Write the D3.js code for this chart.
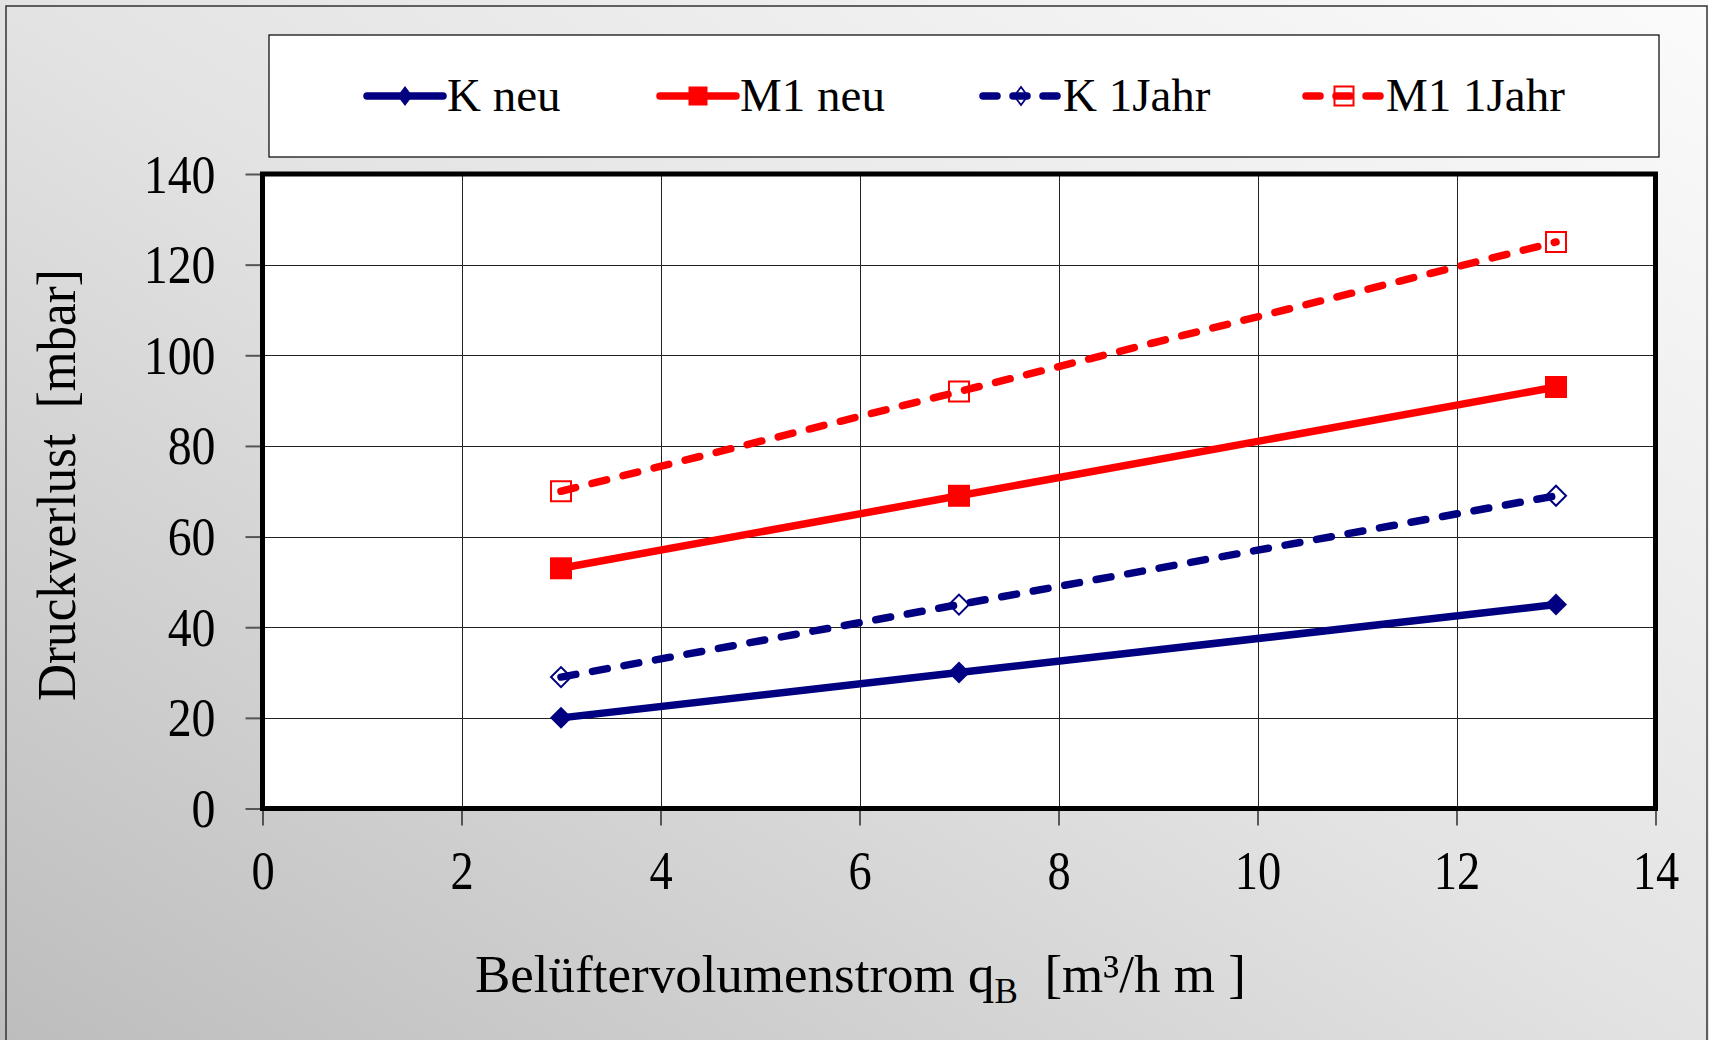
<!DOCTYPE html>
<html>
<head>
<meta charset="utf-8">
<script src="https://cdn.jsdelivr.net/npm/d3@7"></script>
<style>
  body { margin: 0; background: #fff; }
  svg { display: block; }
  text { font-family: "Liberation Serif", "Times New Roman", serif; fill: #000; }
</style>
</head>
<body>
<div class="canvas"></div>
<script>
// data
const xValues = [3, 7, 13]
const kNeu = [20, 30, 45]
const m1Neu = [53, 69, 93]
const k1Jahr = [29, 45, 69]
const m1Jahr = [70, 92, 125]

const xTicks = [0, 2, 4, 6, 8, 10, 12, 14]
const yTicks = [0, 20, 40, 60, 80, 100, 120, 140]

const seriesNames = ["K neu", "M1 neu", "K 1Jahr", "M1 1Jahr"]
const seriesValues = [kNeu, m1Neu, k1Jahr, m1Jahr]

const width = 1709
const height = 1040
const navy = "#000080"
const red = "#ff0000"

// style per series
const styles = [
    { color: navy, dash: null, marker: "diamond", filled: true },
    { color: red, dash: null, marker: "square", filled: true },
    { color: navy, dash: "15 17", marker: "diamond", filled: false },
    { color: red, dash: "15 17", marker: "square", filled: false }
]

const svg = d3.select(".canvas").append("svg")
    .attr("width", width)
    .attr("height", height)

// background gradient
const defs = svg.append("defs")
const grad = defs.append("linearGradient")
    .attr("id", "bg")
    .attr("x1", 0).attr("y1", 1)
    .attr("x2", 1).attr("y2", 0)
grad.append("stop").attr("offset", 0).attr("stop-color", "#bdbdbd")
grad.append("stop").attr("offset", 0.5).attr("stop-color", "#e3e3e3")
grad.append("stop").attr("offset", 1).attr("stop-color", "#fbfbfb")

svg.append("rect")
    .attr("width", width).attr("height", height)
    .attr("fill", "url(#bg)")

// outer frame
svg.append("rect")
    .attr("x", 6).attr("y", 6)
    .attr("width", 1701).attr("height", 1100)
    .attr("fill", "none")
    .attr("stroke", "#333")
    .attr("stroke-width", 1.5)

const x = d3.scaleLinear().domain([0, 14]).range([262.5, 1655.5])
const y = d3.scaleLinear().domain([0, 140]).range([808.5, 174])

// plot area
svg.append("rect")
    .attr("x", x(0)).attr("y", y(140))
    .attr("width", x(14) - x(0)).attr("height", y(0) - y(140))
    .attr("fill", "#fff")

// grid lines
svg.append("g")
    .selectAll("line")
    .data(xTicks.slice(1, -1))
    .enter().append("line")
    .attr("x1", d => Math.round(x(d)) + 0.5)
    .attr("x2", d => Math.round(x(d)) + 0.5)
    .attr("y1", y(140)).attr("y2", y(0))
    .attr("stroke", "#222").attr("stroke-width", 1)

svg.append("g")
    .selectAll("line")
    .data(yTicks.slice(1, -1))
    .enter().append("line")
    .attr("y1", d => Math.round(y(d)) + 0.5)
    .attr("y2", d => Math.round(y(d)) + 0.5)
    .attr("x1", x(0)).attr("x2", x(14))
    .attr("stroke", "#222").attr("stroke-width", 1)

// axes (ticks outside plot area)
const xAxis = svg.append("g")
    .attr("transform", `translate(0,${y(0)})`)
    .call(d3.axisBottom(x).tickValues(xTicks).tickSize(17).tickFormat(d3.format("d")))
xAxis.select(".domain").remove()
xAxis.selectAll(".tick line").attr("stroke", "#111").attr("stroke-width", 1.3)
xAxis.selectAll(".tick text")
    .attr("dy", null)
    .attr("y", 80)
    .style("font-size", "54px")
    .style("font-family", "'Liberation Serif', 'Times New Roman', serif")

const yAxis = svg.append("g")
    .attr("transform", `translate(${x(0)},0)`)
    .call(d3.axisLeft(y).tickValues(yTicks).tickSize(17).tickFormat(d3.format("d")))
yAxis.select(".domain").remove()
yAxis.selectAll(".tick line").attr("stroke", "#555").attr("stroke-width", 2)
yAxis.selectAll(".tick text")
    .attr("dy", null)
    .attr("x", -47)
    .attr("y", 18)
    .style("font-size", "55px")
    .style("font-family", "'Liberation Serif', 'Times New Roman', serif")

// squeeze text horizontally like the original rendering
function squeeze(sel, k) {
    sel.each(function () {
        const w = this.getComputedTextLength()
        d3.select(this)
            .attr("textLength", w * k)
            .attr("lengthAdjust", "spacingAndGlyphs")
    })
}
squeeze(xAxis.selectAll(".tick text"), 0.86)
squeeze(yAxis.selectAll(".tick text"), 0.87)

// plot border
svg.append("rect")
    .attr("x", x(0)).attr("y", y(140))
    .attr("width", x(14) - x(0)).attr("height", y(0) - y(140))
    .attr("fill", "none")
    .attr("stroke", "#000")
    .attr("stroke-width", 5)

// series lines
const line = d3.line()
    .x(d => x(d[0]))
    .y(d => y(d[1]))

function markerPath(type, size) {
    if (type === "diamond") {
        return d3.symbol().type(d3.symbolSquare).size(size * size / 2)()
    }
    return d3.symbol().type(d3.symbolSquare).size(size * size)()
}

seriesValues.forEach((vals, i) => {
    const st = styles[i]
    const pts = xValues.map((xv, j) => [xv, vals[j]])
    const g = svg.append("g")

    g.append("path")
        .datum(pts)
        .attr("d", line)
        .attr("fill", "none")
        .attr("stroke", st.color)
        .attr("stroke-width", 7.5)
        .attr("stroke-linecap", "round")
        .attr("stroke-dasharray", st.dash)

    const size = st.filled ? 22 : 20
    g.selectAll("path.marker")
        .data(pts)
        .enter().append("path")
        .attr("class", "marker")
        .attr("d", markerPath(st.marker, size))
        .attr("transform", d => `translate(${x(d[0])},${y(d[1])})` + (st.marker === "diamond" ? " rotate(45)" : ""))
        .attr("fill", st.filled ? st.color : "none")
        .attr("stroke", st.color)
        .attr("stroke-width", st.filled ? 0 : 2)
})

// legend
svg.append("rect")
    .attr("x", 269).attr("y", 35)
    .attr("width", 1390).attr("height", 122)
    .attr("fill", "#fff")
    .attr("stroke", "#000")
    .attr("stroke-width", 1.2)

const legendX = [367, 660, 983, 1306]
const legendY = 96

const legend = svg.append("g")
    .selectAll("g")
    .data(seriesNames)
    .enter().append("g")
    .attr("transform", (d, i) => `translate(${legendX[i]},${legendY})`)

legend.append("line")
    .attr("x1", 0).attr("x2", 76)
    .attr("y1", 0).attr("y2", 0)
    .attr("stroke", (d, i) => styles[i].color)
    .attr("stroke-width", 7.5)
    .attr("stroke-linecap", "round")
    .attr("stroke-dasharray", (d, i) => styles[i].dash ? "14 16" : null)

legend.append("path")
    .attr("d", (d, i) => styles[i].marker === "diamond"
        ? markerPath("diamond", styles[i].filled ? 20 : 18)
        : markerPath("square", 19))
    .attr("transform", (d, i) => "translate(38,0)" + (styles[i].marker === "diamond" ? " scale(0.75,1) rotate(45)" : ""))
    .attr("fill", (d, i) => styles[i].filled ? styles[i].color : "none")
    .attr("stroke", (d, i) => styles[i].color)
    .attr("stroke-width", (d, i) => styles[i].filled ? 0 : 2)

legend.append("text")
    .attr("x", 80)
    .attr("y", 15)
    .style("font-size", "47px")
    .text(d => d)

// axis titles
const yTitle = svg.append("text")
    .attr("transform", "translate(75,485) rotate(-90)")
    .attr("text-anchor", "middle")
    .style("font-size", "55px")
    .text("Druckverlust  [mbar]")
    .attr("xml:space", "preserve")
squeeze(yTitle, 0.93)

const xTitle = svg.append("text")
    .attr("x", 475)
    .attr("y", 992)
    .attr("xml:space", "preserve")
    .style("font-size", "53px")
xTitle.append("tspan").text("Belüftervolumenstrom q")
xTitle.append("tspan").attr("dy", 11).style("font-size", "35px").text("B")
xTitle.append("tspan").attr("dy", -11).text("  [m³/h m ]")
</script>
</body>
</html>
